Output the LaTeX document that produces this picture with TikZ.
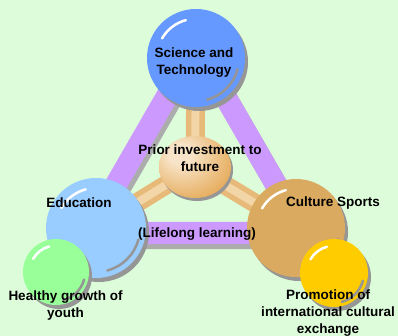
\documentclass[tikz,border=0pt]{standalone}
\usepackage{fontspec}
\setmainfont{Liberation Sans}
\usetikzlibrary{positioning,calc,shapes.geometric}

\definecolor{bgGreen}{RGB}{221,253,218}
\definecolor{sciBlue}{RGB}{102,153,255}
\definecolor{eduBlue}{RGB}{153,204,255}
\definecolor{culTan}{RGB}{218,170,96}
\definecolor{youthGreen}{RGB}{153,255,153}
\definecolor{intlGold}{RGB}{255,204,0}
\definecolor{bandPurple}{RGB}{204,153,255}
\definecolor{bandShade}{RGB}{172,172,172}
\definecolor{ballShade}{RGB}{150,150,150}
\definecolor{spokeTan}{RGB}{231,186,122}
\definecolor{spokeLight}{RGB}{243,214,168}
\definecolor{priorLight}{RGB}{247,228,200}
\definecolor{priorOrange}{RGB}{230,172,92}

\pgfdeclareradialshading{priorShade}{\pgfpoint{-12bp}{12bp}}{color(0bp)=(priorLight); color(8bp)=(priorLight); color(34bp)=(priorOrange); color(70bp)=(priorOrange)}

\begin{document}
\begin{tikzpicture}[x=1pt,y=-1pt,
  ball/.style={circle,inner sep=0pt,minimum size=#1},
  lbl/.style={font=\fontsize{13.5}{17}\selectfont\bfseries,align=center,inner sep=0pt}]
%Background
\fill[bgGreen] (0,0) rectangle (398,336);
\useasboundingbox (0,0) rectangle (398,336);

%Centres
\coordinate (sci) at (196,58);
\coordinate (edu) at (96,228);
\coordinate (cul) at (296,228);
\coordinate (prior) at (195,167);
\coordinate (youth) at (56,272);
\coordinate (intl) at (334,273);

%Band corners
\coordinate (bandT) at ($(sci)+(0,-12)$);
\coordinate (bandL) at ($(edu)+(-8,5)$);
\coordinate (bandR) at ($(cul)+(8,5)$);

%Band with its shadow
\draw[bandShade,line width=22pt,line join=round] ([shift={(3,5)}]bandT) -- ([shift={(3,5)}]bandL) -- ([shift={(3,5)}]bandR) -- cycle;
\draw[bandPurple,line width=22pt,line join=round] (bandT) -- (bandL) -- (bandR) -- cycle;

%Spokes
\foreach \e in {sci,edu,cul}{
  \draw[spokeTan,line width=19pt] (prior) -- (\e);
  \draw[spokeLight,line width=8pt] (prior) -- (\e);
}

%Centre ball
\fill[ballShade] ($(prior)+(2,3)$) ellipse[x radius=36,y radius=31];
\node[ellipse,inner sep=0pt,minimum width=72pt,minimum height=62pt,shading=priorShade] (priorBall) at (prior) {};

%Outer balls
\foreach \n/\r/\c in {sci/49/sciBlue,edu/50/eduBlue,cul/49/culTan,youth/33/youthGreen,intl/34/intlGold}{
  \fill[ballShade] ($(\n)+(3,4)$) circle (\r);
  \node[ball={2pt*\r},fill=\c] (\n Ball) at (\n) {};
  \draw[ballShade,line width=2.5pt,line cap=round] (\n) ++(15:0.88*\r) arc[start angle=15,end angle=75,radius=0.88*\r];
  \draw[white,line width=2.5pt,line cap=round] (\n) ++(210:0.8*\r) arc[start angle=210,end angle=255,radius=0.8*\r];
}

%Labels
\node[lbl] (sciTxt) at (194,63) {Science and\\Technology};
\node[lbl] (priorTxt) at (200,158.5) {Prior investment to\\future};
\node[lbl] (eduTxt) at (79,203) {Education};
\node[lbl] (culTxt) at (333,203) {Culture Sports};
\node[lbl] (lifeTxt) at (197,234) {(Lifelong learning)};
\node[lbl] (youthTxt) at (65.5,305.5) {Healthy growth of\\youth};
\node[lbl] (intlTxt) at (328,313.5) {Promotion of\\international cultural\\exchange};
\end{tikzpicture}
\end{document}
